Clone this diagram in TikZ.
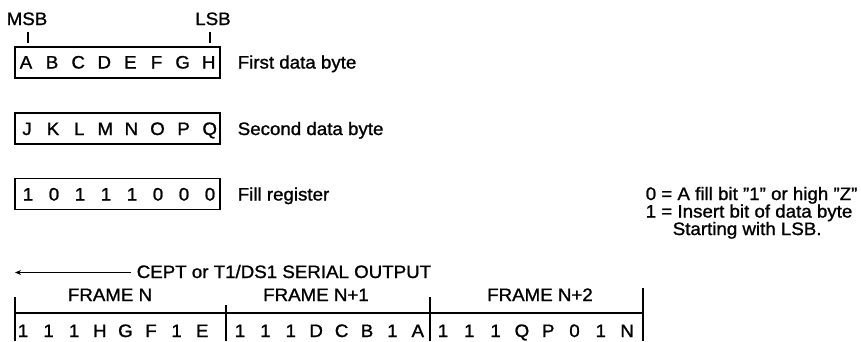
\documentclass[tikz,border=0pt]{standalone}
\usepackage{fontspec}
\setmainfont{Liberation Sans}[FakeStretch=1.04,FakeBold=1.2]
\usetikzlibrary{arrows.meta}
\begin{document}
\begin{tikzpicture}[x=1pt,y=-1pt,line width=1.5pt,
  txt/.style={font=\fontsize{18}{16}\selectfont,inner sep=0pt,anchor=base},
  lbl/.style={txt,anchor=base west},
  regbox/.style={draw,line width=1.7pt,inner sep=0pt,minimum width=205pt,minimum height=31pt},
  tick/.style={line width=1.4pt}]
\useasboundingbox (0,0) rectangle (861,341);

% MSB / LSB markers
\node[txt] (msb) at (27,25) {MSB};
\node[txt] (lsb) at (213,25) {LSB};
\coordinate (msbt) at (28,32);
\coordinate (lsbt) at (210,32);
\draw[tick] (msbt) -- ++(0,11);
\draw[tick] (lsbt) -- ++(0,11);

% Registers
\node[regbox] (first) at (117.5,62.5) {};
\node[regbox] (second) at (117.5,128.5) {};
\node[regbox] (fill) at (117.5,194) {};
\foreach \t [count=\i from 0] in {A,B,C,D,E,F,G,H}
  \node[txt] (fb\i) at ({26+26.1*\i},68.5) {\t};
\foreach \t [count=\i from 0] in {J,K,L,M,N,O,P,Q}
  \node[txt] (sb\i) at ({27+26.1*\i},135) {\t};
\foreach \t [count=\i from 0] in {1,0,1,1,1,0,0,0}
  \node[txt] (fr\i) at ({28+26*\i},200.5) {\t};
\node[lbl] (firstlbl) at (237,68.5) {First data byte};
\node[lbl] (secondlbl) at (237,135) {Second data byte};
\node[lbl] (filllbl) at (237,200.5) {Fill register};

% Legend
\node[lbl] (key0) at (645,200) {0 = A fill bit "1" or high "Z"};
\node[lbl] (key1) at (645,217.5) {1 = Insert bit of data byte};
\node[lbl] (key2) at (672,235) {Starting with LSB.};

% Serial output direction
\node[lbl] (outtxt) at (136,278) {CEPT or T1/DS1 SERIAL OUTPUT};
\coordinate (outtail) at (131,272.5);
\coordinate (outtip) at (15,272.5);
\draw[-{Stealth[length=6pt,width=5pt]},line width=1.3pt] (outtail) -- (outtip);

% Frames
\coordinate (f0) at (15,297);
\coordinate (f1) at (226,305);
\coordinate (f2) at (430,297);
\coordinate (f3) at (643,288);
\coordinate (rowl) at (15,313);
\coordinate (rowr) at (643,313);
\draw (rowl) -- (rowr);
\foreach \c in {f0,f1,f2,f3}
  \draw (\c) -- (\c |- 0,341);
\node[txt] (frn) at (110,301) {FRAME N};
\node[txt] (frn1) at (316,301) {FRAME N+1};
\node[txt] (frn2) at (540,301) {FRAME N+2};
\foreach \t [count=\i from 0] in {1,1,1,H,G,F,1,E}
  \node[txt] (ba\i) at ({23+25.6*\i},337) {\t};
\foreach \t [count=\i from 0] in {1,1,1,D,C,B,1,A}
  \node[txt] (bb\i) at ({240+25.4*\i},337) {\t};
\foreach \t [count=\i from 0] in {1,1,1,Q,P,0,1,N}
  \node[txt] (bc\i) at ({443+26.3*\i},337) {\t};
\end{tikzpicture}
\end{document}
